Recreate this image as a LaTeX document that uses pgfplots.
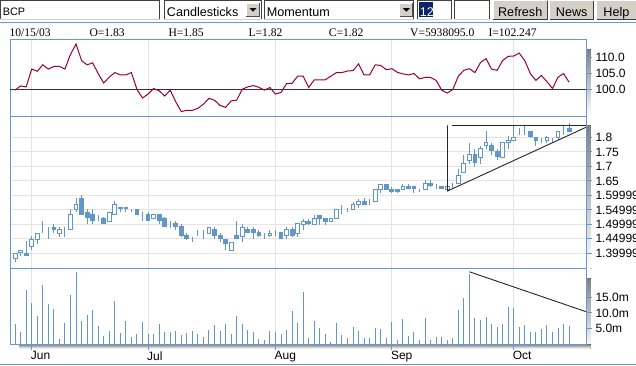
\documentclass[border=0pt]{standalone}
\usepackage{fontspec}
\setmainfont{Liberation Sans}
\newfontfamily\infofont{Liberation Serif}
\usepackage{pgfplots}
\usepackage{pgfplotstable}
\pgfplotsset{compat=1.18}
\definecolor{axblue}{RGB}{102,153,204}
\definecolor{candle}{RGB}{98,150,198}
\definecolor{mom}{RGB}{153,0,51}
\definecolor{gridg}{RGB}{228,228,228}
\definecolor{shade}{RGB}{128,128,128}
\definecolor{btn}{RGB}{212,208,200}
\definecolor{selblue}{RGB}{10,36,106}

\pgfplotstableread{
i o h l c v m
0 1.381 1.401 1.369 1.401 6.4 99.8
1 1.402 1.411 1.390 1.411 3.8 101.1
2 1.401 1.441 1.390 1.393 17.3 100.8
3 1.422 1.461 1.410 1.449 13.1 106.3
4 1.449 1.470 1.431 1.470 9.0 105.6
5 1.481 1.512 1.470 1.481 18.9 107.6
6 1.490 1.490 1.449 1.490 12.7 106.3
7 1.490 1.501 1.470 1.483 11.3 107.1
8 1.470 1.490 1.458 1.481 1.7 107.1
9 1.476 1.490 1.458 1.476 6.8 106.3
10 1.481 1.552 1.481 1.533 15.7 110.8
11 1.552 1.590 1.541 1.570 23.0 114.0
12 1.590 1.602 1.534 1.534 7.4 108.9
13 1.542 1.552 1.501 1.524 9.3 107.6
14 1.533 1.552 1.501 1.514 10.9 108.2
15 1.522 1.533 1.510 1.522 5.8 104.9
16 1.522 1.524 1.501 1.503 2.7 102.0
17 1.511 1.542 1.511 1.542 4.2 103.8
18 1.533 1.581 1.533 1.570 13.8 105.2
19 1.559 1.559 1.541 1.554 3.6 104.5
20 1.559 1.559 1.541 1.555 7.4 104.5
21 1.552 1.552 1.541 1.552 2.3 105.2
22 1.552 1.552 1.533 1.533 3.3 100.0
23 1.533 1.542 1.510 1.533 7.1 97.4
24 1.533 1.541 1.510 1.514 3.3 98.6
25 1.522 1.533 1.522 1.533 3.3 100.3
26 1.533 1.533 1.502 1.514 6.4 99.6
27 1.522 1.524 1.490 1.493 3.9 98.0
28 1.501 1.511 1.489 1.501 3.9 99.8
29 1.502 1.511 1.479 1.493 4.2 96.2
30 1.492 1.502 1.458 1.461 3.0 93.2
31 1.461 1.470 1.447 1.452 3.6 93.6
32 1.449 1.458 1.438 1.449 4.2 93.6
33 1.461 1.481 1.461 1.461 3.3 94.2
34 1.461 1.481 1.449 1.461 2.3 95.5
35 1.470 1.490 1.470 1.490 4.6 97.3
36 1.481 1.490 1.449 1.461 6.2 96.7
37 1.461 1.470 1.438 1.452 4.2 95.1
38 1.449 1.449 1.410 1.434 6.5 94.5
39 1.411 1.439 1.411 1.439 3.3 96.5
40 1.461 1.512 1.449 1.452 9.0 96.7
41 1.458 1.502 1.438 1.490 6.5 100.1
42 1.481 1.490 1.470 1.472 4.6 100.8
43 1.481 1.490 1.449 1.472 3.9 101.2
44 1.472 1.481 1.458 1.462 1.7 100.7
45 1.461 1.470 1.449 1.461 1.4 99.8
46 1.461 1.481 1.458 1.470 4.2 100.6
47 1.472 1.481 1.461 1.472 3.9 98.6
48 1.472 1.472 1.449 1.452 3.3 99.1
49 1.461 1.490 1.449 1.481 4.6 101.8
50 1.481 1.490 1.458 1.461 10.6 101.9
51 1.470 1.502 1.458 1.502 6.8 104.1
52 1.499 1.520 1.480 1.511 16.7 104.1
53 1.511 1.520 1.499 1.502 2.0 100.6
54 1.499 1.532 1.499 1.520 7.4 103.0
55 1.532 1.532 1.499 1.522 5.2 103.0
56 1.520 1.520 1.499 1.511 3.3 103.0
57 1.511 1.520 1.511 1.520 0.7 104.1
58 1.520 1.550 1.520 1.550 6.8 105.2
59 1.550 1.566 1.537 1.550 3.0 105.2
60 1.543 1.555 1.543 1.543 2.0 105.7
61 1.550 1.578 1.550 1.568 5.5 105.8
62 1.568 1.589 1.557 1.580 4.2 107.9
63 1.580 1.591 1.568 1.568 2.0 104.5
64 1.580 1.589 1.568 1.580 2.0 104.5
65 1.580 1.621 1.580 1.619 5.2 107.6
66 1.619 1.639 1.610 1.639 4.9 107.4
67 1.639 1.639 1.621 1.621 2.0 106.1
68 1.621 1.629 1.610 1.612 7.1 106.4
69 1.621 1.621 1.610 1.612 1.4 105.3
70 1.621 1.639 1.621 1.632 8.1 104.8
71 1.632 1.639 1.621 1.624 2.7 104.5
72 1.632 1.632 1.610 1.624 3.9 104.9
73 1.621 1.621 1.612 1.621 1.4 103.3
74 1.621 1.653 1.621 1.641 8.4 103.7
75 1.641 1.653 1.630 1.633 1.4 103.7
76 1.632 1.641 1.621 1.632 2.3 102.8
77 1.632 1.632 1.621 1.624 2.3 99.8
78 1.621 1.632 1.617 1.632 1.4 98.9
79 1.632 1.644 1.623 1.632 2.0 100.0
80 1.640 1.690 1.640 1.669 10.9 104.1
81 1.678 1.741 1.678 1.710 14.8 105.9
82 1.721 1.782 1.707 1.741 22.3 106.4
83 1.741 1.762 1.699 1.713 8.4 105.2
84 1.731 1.772 1.710 1.762 7.8 108.3
85 1.772 1.823 1.759 1.783 8.7 109.5
86 1.772 1.782 1.741 1.754 6.5 106.3
87 1.752 1.762 1.721 1.733 5.5 105.9
88 1.731 1.783 1.731 1.783 6.5 108.9
89 1.783 1.805 1.762 1.791 11.9 110.2
90 1.790 1.841 1.790 1.800 11.6 110.3
91 1.822 1.833 1.810 1.822 5.5 111.2
92 1.822 1.841 1.810 1.822 6.2 108.9
93 1.822 1.822 1.800 1.802 3.9 104.9
94 1.800 1.800 1.770 1.791 3.9 102.8
95 1.791 1.800 1.782 1.791 4.9 104.3
96 1.790 1.805 1.782 1.800 6.2 102.4
97 1.791 1.800 1.782 1.791 3.9 100.3
98 1.800 1.822 1.791 1.822 5.2 103.8
99 1.822 1.841 1.810 1.822 6.5 104.9
100 1.830 1.850 1.820 1.820 5.94 102.25
}\data

\pgfplotsset{
  panel/.style={scale only axis, width=576pt, xmin=-0.917, xmax=103.05,
    anchor=north west,
    axis line style={draw=axblue, line width=1pt},
    xtick={3,24,47,68,90}, xmajorgrids,
    grid style={draw=gridg, line width=1pt},
    ytick pos=right, yticklabel pos=right, xtick pos=left,
    tick align=outside, major tick length=6pt,
    ytick style={draw=axblue, line width=1pt},
    tick label style={font=\fontsize{12}{12}\selectfont, /pgf/number format/assume math mode=true}},
  over/.style={scale only axis, width=576pt, xmin=-0.917, xmax=103.05,
    anchor=north west, hide axis}
}

\newcommand{\field}[2]{%
  \fill[white] (#1,0) rectangle (#2,-19.5);
  \draw[black!75, line width=1pt] (#1+0.5,-19) -- (#1+0.5,-0.5) -- (#2-0.5,-0.5) -- (#2-0.5,-19);
  \draw[btn, line width=1pt] (#1+0.5,-19) -- (#2-0.5,-19);
}
\newcommand{\arrowbtn}[2]{%
  \fill[btn] (#1,-2.7) rectangle (#2,-17.3);
  \draw[white, line width=1pt] (#1+0.5,-16.8) -- (#1+0.5,-3.2) -- (#2-0.5,-3.2);
  \draw[black!70, line width=1pt] (#1+0.5,-16.8) -- (#2-0.5,-16.8) -- (#2-0.5,-3.2);
  \fill[black] ({(#1+#2)/2-3.5},-8.2) -- ({(#1+#2)/2+3.5},-8.2) -- ({(#1+#2)/2},-11.7) -- cycle;
}
\newcommand{\button}[3]{%
  \fill[btn] (#1,0) rectangle (#2,-20);
  \draw[white, line width=1pt] (#1+0.5,-19.5) -- (#1+0.5,-0.5) -- (#2-0.5,-0.5);
  \draw[black!75, line width=1pt] (#1+0.5,-19.5) -- (#2-0.5,-19.5) -- (#2-0.5,-0.5);
  \node[font=\fontsize{12.6}{13}\selectfont, inner sep=0pt, anchor=base] at ({(#1+#2)/2},-16.5) {#3};
}

\begin{document}
\begin{tikzpicture}
\useasboundingbox (0pt,0pt) rectangle (636pt,-365pt);
\clip (0pt,0pt) rectangle (636pt,-365pt);
\begin{scope}[x=1pt,y=1pt]
  \fill[white] (0,0) rectangle (636,-365);
  % toolbar
  \field{0}{160}
  \field{163.7}{261.7}
  \arrowbtn{245.7}{260.3}
  \field{263.7}{414.3}
  \arrowbtn{399.3}{413.3}
  \field{417}{452}
  \field{454.3}{490.3}
  \button{492.7}{547.7}{Refresh}
  \button{549}{594.3}{News}
  \button{596.3}{636.5}{Help}
  \node[anchor=base west, inner sep=0pt, font=\fontsize{10.8}{12}\selectfont] at (2.7,-15) {BCP};
  \node[anchor=base west, inner sep=0pt, font=\fontsize{12.6}{13}\selectfont] at (166.7,-16.5) {Candlesticks};
  \node[anchor=base west, inner sep=0pt, font=\fontsize{12.6}{13}\selectfont] at (266.7,-16.5) {Momentum};
  \fill[selblue] (419.3,-2.3) rectangle (433.3,-17.3);
  \node[anchor=base west, inner sep=0pt, text=white, font=\fontsize{12.6}{13}\selectfont] at (419.6,-16.5) {12};
  % frame lines
  \draw[axblue, line width=1pt] (0,-22.7) -- (636,-22.7);
  \draw[axblue, line width=1pt] (0,-364) -- (636,-364);
  % info line
  \begin{scope}[every node/.style={anchor=base west, inner sep=0pt, font=\infofont\fontsize{11.6}{12}\selectfont}]
    \node at (9.3,-36.7) {10/15/03};
    \node at (89.3,-36.7) {O=1.83};
    \node at (168.3,-36.7) {H=1.85};
    \node at (248.3,-36.7) {L=1.82};
    \node at (328.7,-36.7) {C=1.82};
    \node at (410,-36.7) {V=5938095.0};
    \node at (488.3,-36.7) {I=102.247};
  \end{scope}
  % panel shadows
  \fill[shade] (586.5,-49) rectangle (590.5,-116);
  \fill[shade] (586.5,-125) rectangle (590.5,-268.5);
  \fill[shade] (586.5,-278) rectangle (590.5,-348.5);
  \fill[shade] (19,-344.3) rectangle (590.5,-348.5);
\end{scope}

% Momentum panel
\begin{axis}[panel, at={(10pt,-39.5pt)}, height=76.5pt, ymin=91.846, ymax=115.385,
  xticklabels={}, xtick style={draw=none},
  ytick={100,105,110}, yticklabels={100.0,105.0,110.0}]
\addplot[draw=black!80, line width=1pt, mark=none] coordinates {(-1,100) (104,100)};
\addplot[draw=mom, line width=1pt, mark=none] table[x=i, y=m] {\data};
\end{axis}

% Price panel: grid, wicks
\begin{axis}[panel, at={(10pt,-116pt)}, height=152.5pt, ymin=1.3475, ymax=1.87427,
  ymajorgrids, xticklabels={}, xtick style={draw=none},
  ytick={1.4,1.45,1.5,1.55,1.6,1.65,1.7,1.75,1.8},
  yticklabels={1.39999,1.44999,1.49999,1.54999,1.59999,1.65,1.7,1.75,1.8}]
\addplot[draw=none, mark=none,
  error bars/.cd, y dir=both, y explicit, error mark=none,
  error bar style={draw=candle, line width=1pt}]
  table[x=i, y expr={(\thisrow{h}+\thisrow{l})/2}, y error expr={(\thisrow{h}-\thisrow{l})/2}] {\data};
\end{axis}

% Price panel: bodies
\begin{axis}[over, at={(10pt,-116pt)}, height=152.5pt, ymin=1.3475, ymax=1.87427,
  ybar stacked, bar width=3.8pt]
\addplot[draw=none, fill=none] table[x=i, y expr={min(\thisrow{o},\thisrow{c})}] {\data};
\addplot[draw=candle, fill=white, line width=0.9pt] table[x=i, y expr={max(\thisrow{c}-\thisrow{o},0)}] {\data};
\addplot[draw=candle, fill=candle, line width=0.9pt] table[x=i, y expr={max(\thisrow{o}-\thisrow{c},0)}] {\data};
\end{axis}

% Price panel: triangle
\begin{axis}[over, at={(10pt,-116pt)}, height=152.5pt, ymin=1.3475, ymax=1.87427]
\addplot[draw=black!85, line width=0.9pt, mark=none] coordinates {(78.05,1.8415) (78.05,1.6152) (103.05,1.8352)};
\addplot[draw=black!85, line width=0.9pt, mark=none] coordinates {(78.9,1.8415) (103.05,1.8415)};
\end{axis}

% Volume panel
\begin{axis}[panel, at={(10pt,-268.5pt)}, height=75.8pt, ymin=0, ymax=24.14,
  xticklabels={Jun,Jul,Aug,Sep,Oct},
  xtick style={draw=axblue, line width=1pt},
  xticklabel style={anchor=north west, inner sep=0pt, xshift=-1pt, yshift=-1pt},
  ytick={5,10,15}, yticklabels={5.0m,10.0m,15.0m}]
\addplot[ycomb, draw=candle, line width=1pt, mark=none] table[x=i, y=v] {\data};
\addplot[draw=black!85, line width=0.9pt, mark=none] coordinates {(82,23.1) (103.05,10.4)};
\end{axis}
\end{tikzpicture}
\end{document}
